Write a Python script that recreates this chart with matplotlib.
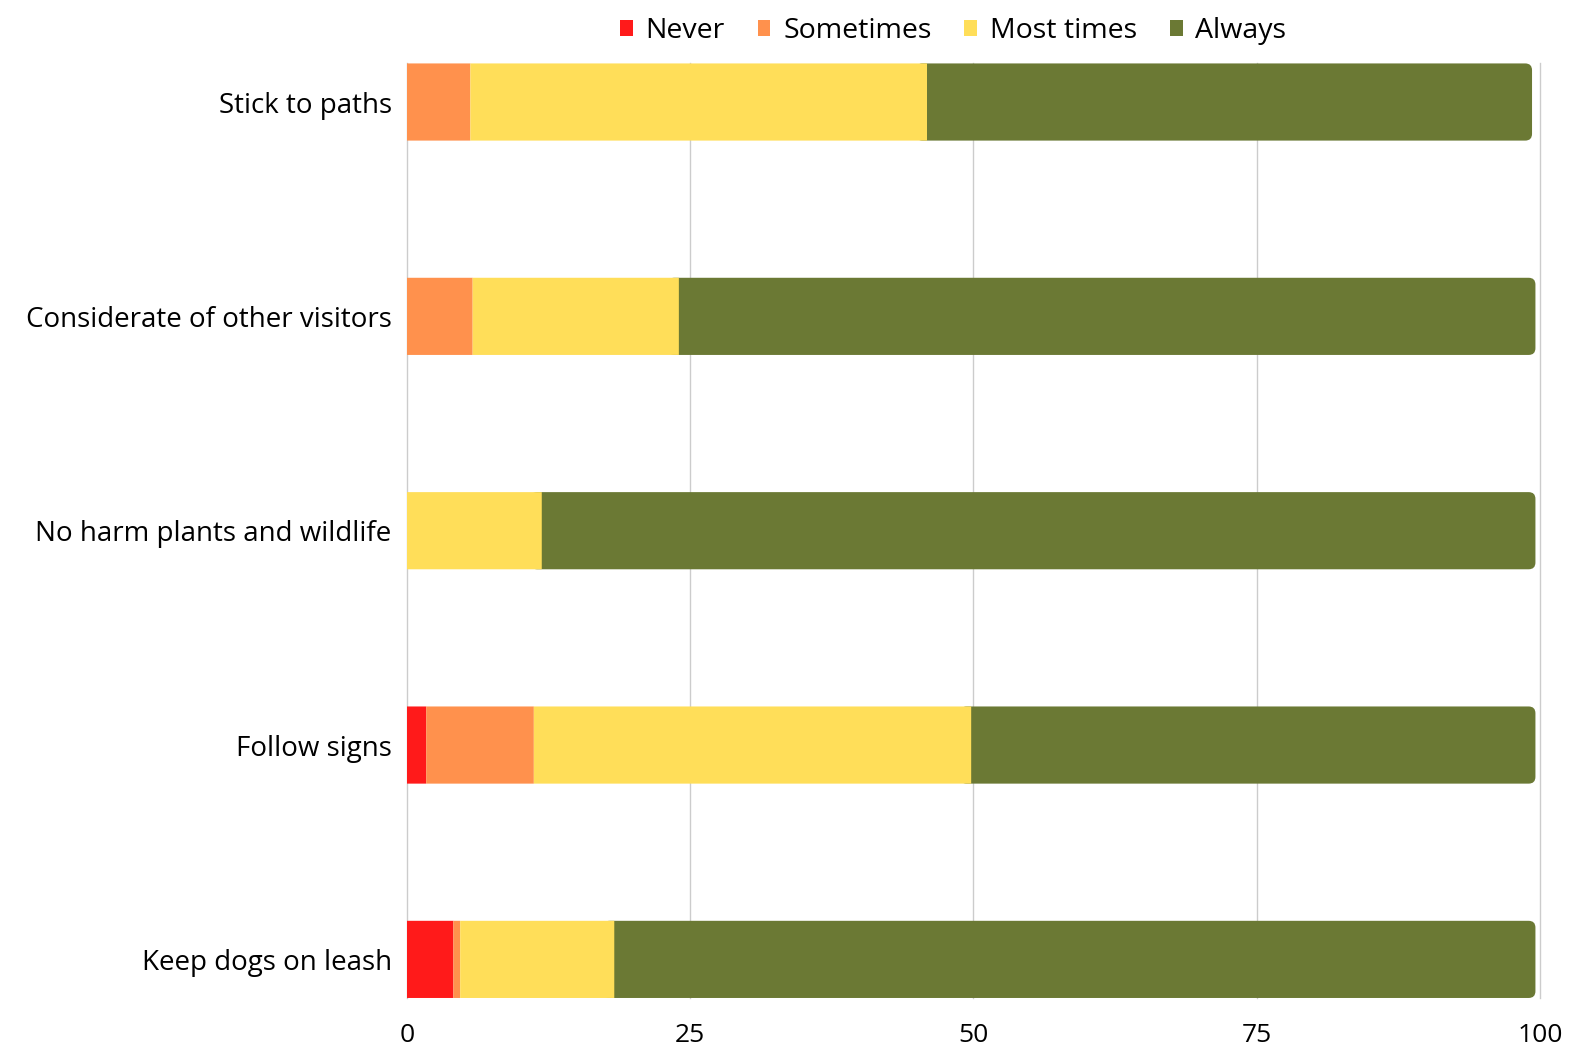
import matplotlib.pyplot as plt
from matplotlib.patches import FancyBboxPatch
import numpy as np

categories = ['Stick to paths', 'Considerate of other visitors', 'No harm plants and wildlife',
              'Follow signs', 'Keep dogs on leash']
never = [0.0, 0.0, 0.0, 1.7, 4.1]
sometimes = [5.6, 5.8, 0.0, 9.5, 0.6]
most_times = [40.3, 18.2, 11.9, 38.6, 13.6]
always = [53.4, 75.6, 87.7, 49.8, 81.3]

series = ['Never', 'Sometimes', 'Most times', 'Always']
colors = ['#FF1A1A', '#FF914D', '#FFDE59', '#6B7934']

plt.rcParams['font.family'] = ['Open Sans', 'DejaVu Sans']

fig = plt.figure(figsize=(15.73, 10.45), dpi=100)
ax = fig.add_axes([0.2587, 0.045, 0.7203, 0.8943])
ax.set_axisbelow(True)

bar_h = 0.36
y = np.arange(len(categories))
left = np.zeros(len(categories))
handles = []
for name, vals, col in zip(series[:3], [never, sometimes, most_times], colors[:3]):
    b = ax.barh(y, vals, left=left, height=bar_h, color=col, label=name, zorder=2, snap=False)
    handles.append(b)
    left = left + np.array(vals)

# "Always" bars: rounded on the right, the left corners tuck under the previous segment
for yi, l, w in zip(y, left, always):
    p = FancyBboxPatch((l - 1, yi - bar_h / 2), w + 1, bar_h,
                       boxstyle='round,pad=0,rounding_size=0.6',
                       mutation_aspect=0.0528, facecolor=colors[3],
                       edgecolor='none', zorder=1.8, label=series[3])
    ax.add_patch(p)
handles.append(p)

ax.set_ylim(len(categories) - 1 + bar_h / 2, -bar_h / 2)
ax.set_xlim(0, 100)
ax.set_yticks(y)
ax.set_yticklabels(categories, fontsize=20)
ax.set_xticks([0, 25, 50, 75, 100])
ax.tick_params(axis='x', labelsize=19, length=0, pad=18)
ax.tick_params(axis='y', length=0, pad=11)
ax.grid(axis='x', color='#CCCCCC', linewidth=1)
for gl in ax.get_xgridlines():
    gl.set_clip_on(False)
for s in ax.spines.values():
    s.set_visible(False)

fig.legend(handles=handles, labels=series, loc='upper center', bbox_to_anchor=(0.606, 1.008),
           ncol=4, frameon=False, fontsize=20.5, handlelength=0.45, handleheight=0.45,
           handletextpad=0.45, columnspacing=1.15)

fig.savefig('out.png', dpi=100)
